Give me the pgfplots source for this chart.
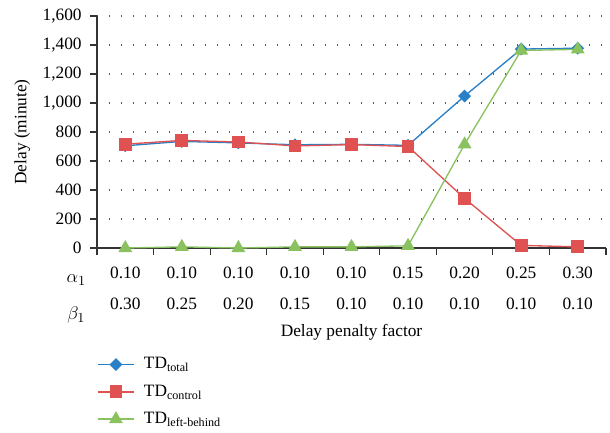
\documentclass[border=0pt]{standalone}
\usepackage{fontspec}
\setmainfont{Liberation Serif}
\usepackage{pgfplots}
\pgfplotsset{compat=1.18}

\definecolor{tdblue}{RGB}{41,128,199}
\definecolor{tdred}{RGB}{224,82,82}
\definecolor{tdgreen}{RGB}{137,194,95}
\definecolor{gridgray}{RGB}{90,90,90}

% delay per setting of the penalty factors (alpha_1, beta_1)
\pgfplotstableread{
x total control left
0 705  716  0
1 735  742  8
2 725  731  0
3 712  704  8
4 715  713  8
5 708  700  15
6 1048 342  715
7 1372 18   1362
8 1378 8    1370
}\delaydata

\begin{document}
\fontsize{13}{15.6}\selectfont
\begin{tikzpicture}
\begin{axis}[
  scale only axis,
  width=381.75pt, height=174pt,
  clip mode=individual,
  xmin=-0.5, xmax=8.5, ymin=0, ymax=1600,
  axis x line=bottom, axis y line=left,
  axis line style={-, draw=black!80, line width=0.8pt},
  tick align=outside,
  tick style={draw=black!80, line width=0.8pt},
  major tick length=5pt,
  % tick marks sit between the categories
  xtick={-0.5,0.5,...,8.5},
  xticklabels={},
  % category labels: alpha_1 on the first line, beta_1 on the second
  extra x ticks={0,...,8},
  extra x tick labels={{0.10\\0.30},{0.10\\0.25},{0.10\\0.20},{0.10\\0.15},{0.10\\0.10},{0.15\\0.10},{0.20\\0.10},{0.25\\0.10},{0.30\\0.10}},
  extra x tick style={major tick length=0pt, xticklabel style={align=center, anchor=center, yshift=-30pt, font=\fontsize{13}{23.25}\selectfont}},
  ytick={0,200,...,1600},
  yticklabel style={/pgf/number format/1000 sep={,}, /pgf/number format/assume math mode=true, xshift=-2pt},
  ymajorgrids,
  major y grid style={draw=gridgray, line width=0.9pt, dash pattern=on 0.9pt off 8.1pt},
  xlabel={Delay penalty factor},
  xlabel style={at={(axis description cs:0.5,0)}, anchor=base, yshift=-66.25pt},
  ylabel={Delay (minute)},
  ylabel style={at={(axis description cs:-0.147,0.5)}, anchor=center},
  legend style={at={(axis description cs:0,0)}, anchor=north west, yshift=-80pt, draw=none, fill=none, inner sep=0pt, row sep=6pt, font=\fontsize{13}{15.6}\selectfont, legend cell align=left,
    /tikz/every odd column/.append style={column sep=5pt}},
  legend image code/.code={\draw[mark repeat=2, mark phase=2] plot coordinates {(0pt,0pt) (13.5pt,0pt) (27pt,0pt)};},
  every axis plot/.append style={line width=1pt},
]
\addplot[tdblue, mark=square*, mark size=2.9pt, mark options={rotate=45, solid}] table[x=x, y=total] {\delaydata};
\addlegendentry{TD\textsubscript{total}}
\addplot[tdred, mark=square*, mark size=4.3pt, mark options={solid}] table[x=x, y=control] {\delaydata};
\addlegendentry{TD\textsubscript{control}}
\addplot[tdgreen, mark=triangle*, mark size=5pt, mark options={solid}] table[x=x, y=left] {\delaydata};
\addlegendentry{TD\textsubscript{left-behind}}
\node[anchor=base, scale=1.15] at (axis description cs:0,0) [xshift=-13.5pt, yshift=-22.5pt] {$\alpha_1$};
\node[anchor=base, scale=1.15] at (axis description cs:0,0) [xshift=-13.5pt, yshift=-46.5pt] {$\beta_1$};
\end{axis}
\pgfresetboundingbox
\path (-72.75pt,-138pt) rectangle (384.75pt,186pt);
\end{tikzpicture}
\end{document}
